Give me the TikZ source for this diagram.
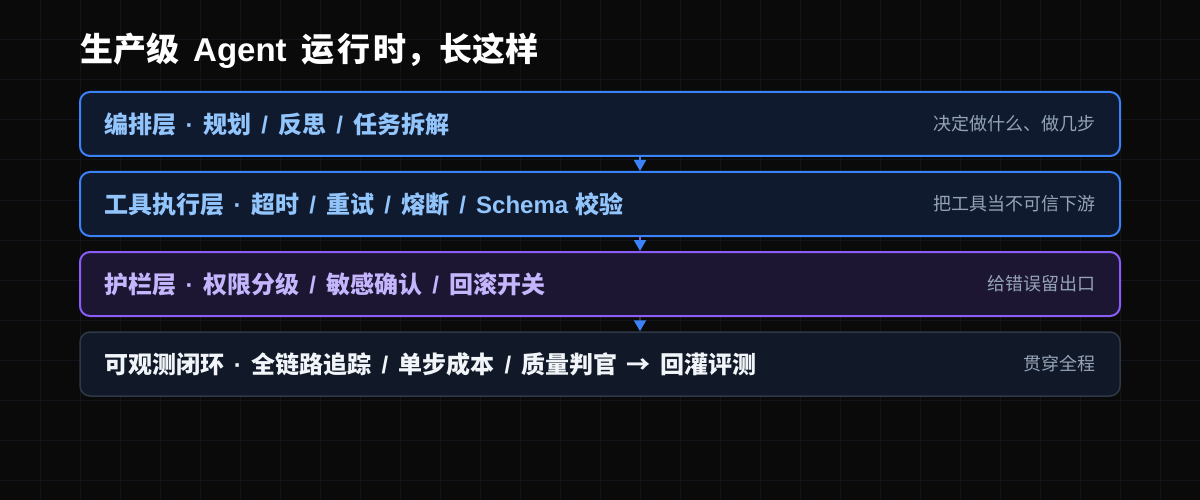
\documentclass[tikz,border=0pt]{standalone}
\usepackage{fontspec}
\setmainfont{Noto Sans CJK SC}
\newfontfamily\latf{Liberation Sans}
\newfontfamily\latb{Liberation Sans}[UprightFont={* Bold}]
\usetikzlibrary{arrows.meta}
\definecolor{bg}{HTML}{0A0A0A}
\definecolor{gridc}{HTML}{13131A}
\definecolor{blueS}{HTML}{3B82F6}
\definecolor{purpleS}{HTML}{8B5CF6}
\definecolor{grayS}{HTML}{2E3846}
\definecolor{blueF}{HTML}{0F1A2E}
\definecolor{purpleF}{HTML}{1C1633}
\definecolor{grayF}{HTML}{111827}
\definecolor{blueT}{HTML}{93C5FD}
\definecolor{purpleT}{HTML}{C4B5FD}
\definecolor{whiteT}{HTML}{F1F5F9}
\definecolor{subT}{HTML}{94A3B8}
\newcommand\mysep[2][27pt]{\makebox[#1]{\latf #2}}
\begin{document}
\begin{tikzpicture}[x=1pt,y=-1pt,
  layerbox/.style={rounded corners=10pt, minimum width=1040pt, minimum height=64pt, inner sep=0pt},
  mainlabel/.style={anchor=west, inner sep=0pt, font=\fontsize{24}{28}\selectfont\bfseries},
  sublabel/.style={anchor=east, inner sep=0pt, text=subT, font=\fontsize{18}{21}\selectfont},
  flow/.style={line width=2pt, -{Triangle[width=12pt,length=11pt,color=blueS]}}
]
\fill[bg] (0,0) rectangle (1200,500);
\useasboundingbox (0,0) rectangle (1200,500);
\foreach \i in {40,80,...,1160} \draw[gridc, line width=1pt] (\i,0) -- (\i,500);
\foreach \j in {40,80,...,480} \draw[gridc, line width=1pt] (0,\j) -- (1200,\j);

\node[anchor=west, inner sep=0pt, text=white, font=\fontsize{33}{38}\selectfont\bfseries] (title) at (80,51) {生产级\hspace{14pt}{\latb Agent}\hspace{15pt}运\hspace{3pt}行\hspace{3pt}时，长这样};

\node[layerbox, draw=blueS, line width=2pt, fill=blueF] (b1) at (600,124) {};
\node[layerbox, draw=blueS, line width=2pt, fill=blueF] (b2) at (600,204) {};
\node[layerbox, draw=purpleS, line width=2pt, fill=purpleF] (b3) at (600,284) {};
\node[layerbox, draw=grayS, line width=1.5pt, fill=grayF] (b4) at (600,364) {};

\node[mainlabel, text=blueT] (m1) at ([xshift=25pt]b1.west) {编排层\mysep{·}规划\mysep{/}反思\mysep{/}任务拆解};
\node[mainlabel, text=blueT] (m2) at ([xshift=25pt]b2.west) {工具执行层\mysep{·}超时\mysep{/}重试\mysep{/}熔断\mysep{/}{\latb Schema}\hspace{7pt}校验};
\node[mainlabel, text=purpleT] (m3) at ([xshift=25pt]b3.west) {护栏层\mysep{·}权限分级\mysep{/}敏感确认\mysep{/}回滚开关};
\node[mainlabel, text=whiteT] (m4) at ([xshift=25pt]b4.west) {可观测闭环\mysep{·}全链路追踪\mysep{/}单步成本\mysep{/}质量判官\makebox[43pt]{→}回灌评测};

\node[sublabel] (s1) at ([xshift=-25pt]b1.east) {决定做什么、做几步};
\node[sublabel] (s2) at ([xshift=-25pt]b2.east) {把工具当不可信下游};
\node[sublabel] (s3) at ([xshift=-25pt]b3.east) {给错误留出口};
\node[sublabel] (s4) at ([xshift=-25pt]b4.east) {贯穿全程};

\draw[flow, draw=blueS] ([xshift=40pt]b1.south) -- ([xshift=40pt]b2.north);
\draw[flow, draw=purpleS] ([xshift=40pt]b2.south) -- ([xshift=40pt]b3.north);
\draw[flow, draw=grayS] ([xshift=40pt]b3.south) -- ([xshift=40pt]b4.north);
\end{tikzpicture}
\end{document}
